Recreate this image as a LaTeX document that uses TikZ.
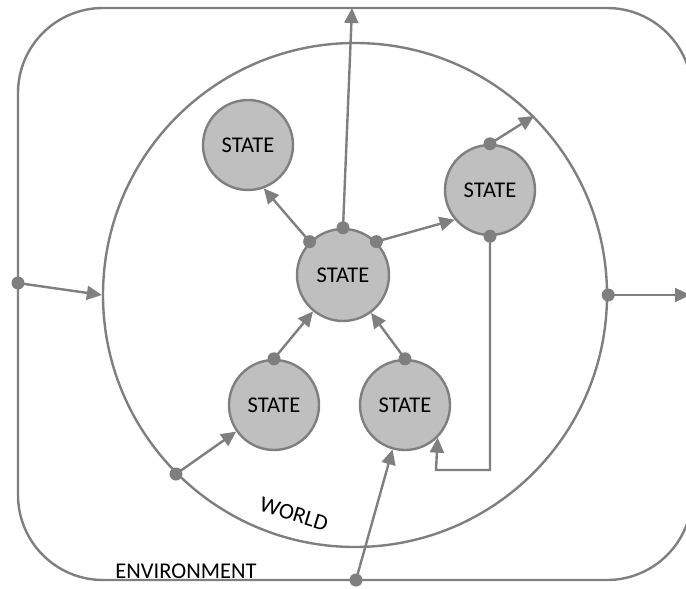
\documentclass[tikz,border=0pt]{standalone}
\usepackage{fontspec}
\setmainfont{Carlito}
\usetikzlibrary{arrows.meta}
\definecolor{ln}{HTML}{7F7F7F}
\definecolor{sf}{HTML}{BFBFBF}
\begin{document}
\begin{tikzpicture}[x=1pt,y=-1pt,
  line width=2.4pt,
  stnode/.style={circle,draw=ln,fill=sf,minimum size=90pt,inner sep=0pt,font=\fontsize{22.5}{24}\selectfont},
  dotnode/.style={circle,fill=ln,inner sep=0pt,minimum size=13pt},
  conn/.style={draw=ln,-{Triangle[length=15pt,width=14pt]}},
  lbl/.style={font=\fontsize{22.5}{24}\selectfont,inner sep=0pt}]
\useasboundingbox (0,0) rectangle (686,589);
\clip (0,0) rectangle (686,589);
% environment
\node[draw=ln,rounded corners=85pt,minimum width=674pt,minimum height=572pt,inner sep=0pt] (env) at (355,294) {};
% world
\node[draw=ln,circle,minimum size=504pt,inner sep=0pt] (w) at (355,295) {};
% states
\node[stnode] (tl) at (248,145) {STATE};
\node[stnode,minimum size=92pt] (c) at (343,275) {STATE};
\node[stnode] (rs) at (490,190) {STATE};
\node[stnode] (bl) at (274,405) {STATE};
\node[stnode] (br) at (405,405) {STATE};
% labels
\node[lbl,rotate=-17] (wl) at (294,514) {WORLD};
\node[lbl] (el) at (186,571) {ENVIRONMENT};
% coordinates
\coordinate (topend) at (352,8);
\coordinate (rightend) at (690,295);
\coordinate (loop) at (436,470);
% dots
\node[dotnode] (c1) at (c.135) {};
\node[dotnode] (c2) at (c.90) {};
\node[dotnode] (c3) at (c.45) {};
\node[dotnode] (rst) at (rs.90) {};
\node[dotnode] (rsb) at (rs.270) {};
\node[dotnode] (blt) at (bl.90) {};
\node[dotnode] (brt) at (br.90) {};
\node[dotnode] (wd) at (w.225) {};
\node[dotnode] (wr) at (w.0) {};
\node[dotnode] (el1) at (18,283) {};
\node[dotnode] (eb) at (356,580) {};
% connectors
\draw[conn] (c1.center) -- (tl.-70);
\draw[conn] (c2.center) -- (topend);
\draw[conn] (c3.center) -- (rs.220);
\draw[conn] (rst.center) -- (w.45);
\draw[conn] (rsb.center) |- (loop) -- (br.-45);
\draw[conn] (blt.center) -- (c);
\draw[conn] (brt.center) -- (c);
\draw[conn] (wd.center) -- (bl);
\draw[conn] (eb.center) -- (br);
\draw[conn] (el1.center) -- (w.180);
\draw[conn] (wr.center) -- (rightend);
\end{tikzpicture}
\end{document}
